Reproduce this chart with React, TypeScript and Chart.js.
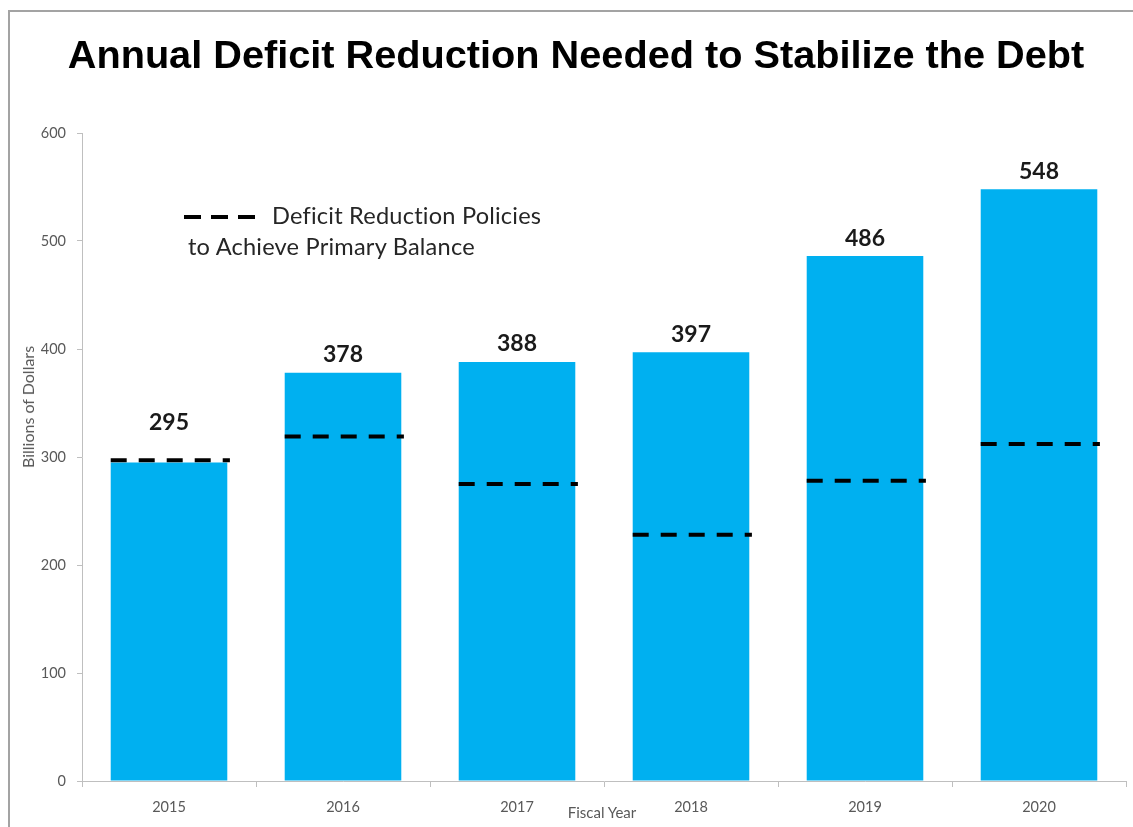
import React, { useEffect, useRef } from 'react';
import { Chart, registerables } from 'chart.js';

Chart.register(...registerables);

const years = ['2015', '2016', '2017', '2018', '2019', '2020'];
const deficitReduction = [295, 378, 388, 397, 486, 548];
const primaryBalancePolicies = [297, 319, 275, 228, 278, 312];
const yTicks = [0, 100, 200, 300, 400, 500, 600];

const titleText = 'Annual Deficit Reduction Needed to Stabilize the Debt';
const yTitle = 'Billions of Dollars';
const xTitle = 'Fiscal Year';
const legendLine1 = 'Deficit Reduction Policies';
const legendLine2 = 'to Achieve Primary Balance';

const BAR_HALF = 0.335;
const DASH_END = 0.35;

const valueLabels = {
  id: 'valueLabels',
  afterDatasetsDraw(chart: any) {
    const meta = chart.getDatasetMeta(1);
    const ctx = chart.ctx;
    ctx.save();
    ctx.font = 'bold 23px Lato';
    ctx.fillStyle = '#1a1a1a';
    ctx.textAlign = 'center';
    ctx.textBaseline = 'middle';
    meta.data.forEach((bar: any, i: number) => {
      const off = i === 0 ? 40 : 18;
      ctx.fillText(String(deficitReduction[i]), bar.x, bar.y - off);
    });
    ctx.restore();
  },
};

export default function App() {
  const ref = useRef<HTMLCanvasElement>(null);
  useEffect(() => {
    document.body.style.margin = '0';
    const dashData: any[] = [];
    primaryBalancePolicies.forEach((v, i) => {
      dashData.push({ x: i - BAR_HALF, y: v });
      dashData.push({ x: i + DASH_END, y: v });
      dashData.push({ x: i + 0.45, y: null });
    });
    const chart = new Chart(ref.current as HTMLCanvasElement, {
      type: 'bar',
      data: {
        labels: years,
        datasets: [
          {
            type: 'line',
            label: 'Deficit Reduction Policies to Achieve Primary Balance',
            data: dashData,
            xAxisID: 'x2',
            borderColor: '#000000',
            borderWidth: 4,
            borderDash: [16, 12],
            borderCapStyle: 'butt',
            pointRadius: 0,
            spanGaps: false,
            fill: false,
            order: 0,
          } as any,
          {
            type: 'bar',
            label: 'Annual Deficit Reduction',
            data: deficitReduction,
            backgroundColor: '#00B0F0',
            barPercentage: 0.67,
            categoryPercentage: 1,
            grouped: false,
            order: 1,
          },
        ],
      },
      options: {
        responsive: false,
        animation: false,
        layout: { padding: { top: 133, right: 7, bottom: 0, left: 0 } },
        font: { family: 'Lato' },
        plugins: {
          legend: { display: false },
          tooltip: { enabled: false },
        },
        scales: {
          x: {
            type: 'category',
            grid: { offset: true, drawOnChartArea: false, drawTicks: true, tickLength: 6, color: '#bfbfbf' },
            border: { color: '#bfbfbf', width: 1 },
            ticks: { color: '#595959', font: { family: 'Lato', size: 14.5 }, padding: 12 },
            afterFit: (s: any) => { s.height = 46; },
          },
          x2: {
            type: 'linear',
            display: false,
            offset: false,
            bounds: 'data',
            min: -0.5,
            max: 5.5,
            grid: { offset: false },
          },
          y: {
            min: 0,
            max: 600,
            afterBuildTicks: (s: any) => { s.ticks = yTicks.map((v) => ({ value: v })); },
            grid: { drawOnChartArea: false, drawTicks: true, tickLength: 5, color: '#bfbfbf' },
            border: { color: '#bfbfbf', width: 1 },
            ticks: { color: '#595959', font: { family: 'Lato', size: 14.5 }, padding: 11 },
            afterFit: (s: any) => { s.width = 82; },
          },
        },
      } as any,
      plugins: [valueLabels],
    });
    return () => chart.destroy();
  }, []);

  const dash = (left: number) => (
    <div style={{ position: 'absolute', left, top: 215, width: 17, height: 4, background: '#000' }} />
  );

  const legendStyle: any = {
    position: 'absolute',
    fontFamily: 'Lato',
    fontSize: 24,
    lineHeight: 1,
    color: '#262626',
    whiteSpace: 'nowrap',
    fontVariantLigatures: 'none',
    letterSpacing: 0.2,
  };

  return (
    <div style={{ position: 'relative', width: 1133, height: 827, overflow: 'hidden', background: '#fff' }}>
      <div style={{ position: 'absolute', left: 8, top: 10, width: 1300, height: 1000, border: '2px solid #a3a3a3' }} />
      <canvas ref={ref} width={1133} height={827} style={{ position: 'absolute', left: 0, top: 0, width: 1133, height: 827 }} />
      <div style={{ position: 'absolute', left: 0, top: 35, width: 1152, textAlign: 'center', fontFamily: '"Liberation Sans", Arial, sans-serif', fontWeight: 'bold', fontSize: 39.7, lineHeight: 1, color: '#000', whiteSpace: 'nowrap' }}>
        {titleText}
      </div>
      <div style={{ position: 'absolute', left: 28, top: 407, transform: 'translate(-50%, -50%) rotate(-90deg)', fontFamily: 'Lato', fontSize: 16, lineHeight: 1, color: '#595959', whiteSpace: 'nowrap' }}>
        {yTitle}
      </div>
      <div style={{ position: 'absolute', left: 602, top: 812, transform: 'translate(-50%, -50%)', fontFamily: 'Lato', fontSize: 15, lineHeight: 1, color: '#595959', whiteSpace: 'nowrap' }}>
        {xTitle}
      </div>
      {dash(184)}
      {dash(211)}
      {dash(238)}
      <div style={{ ...legendStyle, left: 272, top: 204, fontSize: 23.6 }}>
        {legendLine1}
      </div>
      <div style={{ ...legendStyle, left: 188, top: 235, fontSize: 23.6 }}>
        {legendLine2}
      </div>
    </div>
  );
}
